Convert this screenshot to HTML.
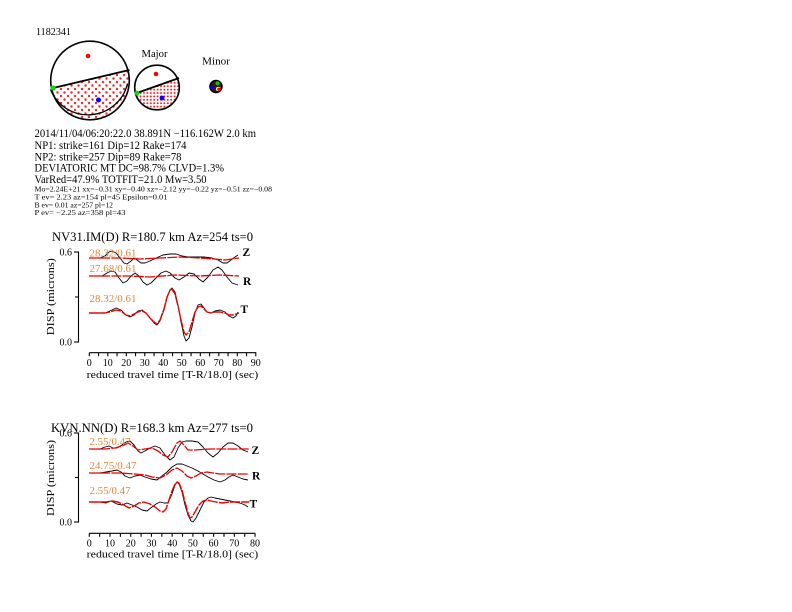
<!DOCTYPE html>
<html><head><meta charset="utf-8"><style>
html,body{margin:0;padding:0;background:#fff;}
svg{display:block;}
text{font-family:"Liberation Serif",serif;fill:#000;}
</style></head><body>
<svg width="792" height="612" viewBox="0 0 792 612" xmlns="http://www.w3.org/2000/svg">
<defs>
<pattern id="pb" x="0" y="0" width="7" height="7" patternUnits="userSpaceOnUse">
<g stroke="#e63030" stroke-width="0.8"><path d="M0.3 1.5h2.4M1.5 0.3v2.4M0.6 0.6l1.8 1.8M2.4 0.6l-1.8 1.8"/><path d="M3.8 5h2.4M5 3.8v2.4M4.1 4.1l1.8 1.8M5.9 4.1l-1.8 1.8"/></g>
</pattern>
<pattern id="pm" x="0" y="0" width="3.4" height="3.4" patternUnits="userSpaceOnUse">
<circle cx="1.2" cy="1.2" r="1" fill="#e62020"/>
</pattern>
<clipPath id="cbig"><circle cx="90" cy="80.5" r="38.5"/></clipPath>
<clipPath id="hbig"><polygon points="40,91.1 140,67.4 140,130 40,130"/></clipPath>
<clipPath id="cmed"><circle cx="157" cy="87.5" r="21.5"/></clipPath>
<clipPath id="hmed"><polygon points="130,95.6 185,75.4 185,115 130,115"/></clipPath>
</defs>
<rect width="792" height="612" fill="#fff"/>

<text x="36" y="35" font-size="10" textLength="35" lengthAdjust="spacingAndGlyphs">1182341</text>

<!-- big ball -->
<g clip-path="url(#cbig)"><g clip-path="url(#hbig)"><rect x="40" y="40" width="100" height="90" fill="url(#pb)"/></g></g>
<circle cx="90" cy="80.5" r="39.3" fill="none" stroke="#000" stroke-width="1.6"/>
<path d="M 52 88 A 40.5 40.5 0 0 0 129 82" fill="none" stroke="#000" stroke-width="1.3" transform="translate(-1.5,1.5)"/>
<line x1="51" y1="88.5" x2="129.5" y2="70" stroke="#000" stroke-width="1.8"/>
<circle cx="88" cy="56" r="2.3" fill="#f00"/>
<circle cx="98.5" cy="100" r="2.5" fill="#00f"/>
<circle cx="53" cy="88" r="2.6" fill="#0d0"/>

<!-- medium ball -->
<text x="154.5" y="57" font-size="10" text-anchor="middle" textLength="26" lengthAdjust="spacingAndGlyphs">Major</text>
<g clip-path="url(#cmed)"><g clip-path="url(#hmed)"><rect x="130" y="60" width="60" height="60" fill="url(#pm)"/></g></g>
<circle cx="157" cy="87.5" r="22.3" fill="none" stroke="#000" stroke-width="1.6"/>
<line x1="135.5" y1="93.5" x2="179" y2="78" stroke="#000" stroke-width="1.8"/>
<circle cx="156" cy="74" r="2.3" fill="#f00"/>
<circle cx="162" cy="98" r="2.4" fill="#00f"/>
<circle cx="137" cy="93" r="2.4" fill="#0d0"/>

<!-- minor ball -->
<text x="216" y="64.5" font-size="10" text-anchor="middle" textLength="28" lengthAdjust="spacingAndGlyphs">Minor</text>
<circle cx="216" cy="86.5" r="6" fill="#3a1a08" stroke="#000" stroke-width="1.6"/>
<path d="M 216 88 Q 218 86 220.5 87.5 L 219.5 91 L 216.5 91 Z" fill="#fff"/>
<circle cx="217.5" cy="83.3" r="2" fill="#0c0"/>
<circle cx="212.2" cy="87" r="2" fill="#00f"/>
<circle cx="219" cy="89.3" r="1.8" fill="#f00"/>

<!-- text block -->
<text x="34.5" y="137" font-size="11.5" textLength="221.5" lengthAdjust="spacingAndGlyphs">2014/11/04/06:20:22.0 38.891N −116.162W 2.0 km</text>
<text x="34.5" y="149" font-size="11.5" textLength="152" lengthAdjust="spacingAndGlyphs">NP1: strike=161 Dip=12 Rake=174</text>
<text x="34.5" y="160.5" font-size="11.5" textLength="147" lengthAdjust="spacingAndGlyphs">NP2: strike=257 Dip=89 Rake=78</text>
<text x="34.5" y="171.5" font-size="11.5" textLength="189.5" lengthAdjust="spacingAndGlyphs">DEVIATORIC MT DC=98.7% CLVD=1.3%</text>
<text x="34.5" y="183" font-size="11.5" textLength="172" lengthAdjust="spacingAndGlyphs">VarRed=47.9% TOTFIT=21.0 Mw=3.50</text>

<text x="34.5" y="191.5" font-size="7" textLength="237.5" lengthAdjust="spacingAndGlyphs">Mo=2.24E+21 xx=−0.31 xy=−0.40 xz=−2.12 yy=−0.22 yz=−0.51 zz=−0.08</text>
<text x="34.5" y="199.5" font-size="7" textLength="133" lengthAdjust="spacingAndGlyphs">T ev=  2.23 az=154 pl=45 Epsilon=0.01</text>
<text x="34.5" y="207.3" font-size="7" textLength="78.5" lengthAdjust="spacingAndGlyphs">B ev=  0.01 az=257 pl=12</text>
<text x="34.5" y="215" font-size="7" textLength="91" lengthAdjust="spacingAndGlyphs">P ev= −2.25 az=358 pl=43</text>

<!-- ===== Plot 1 ===== -->
<text x="52" y="241" font-size="12.5" textLength="201" lengthAdjust="spacingAndGlyphs">NV31.IM(D) R=180.7 km Az=254 ts=0</text>
<g stroke="#000" stroke-width="1.1" fill="none">
<line x1="78.5" y1="251.5" x2="78.5" y2="342.5"/>
<line x1="74" y1="252" x2="78.5" y2="252"/>
<line x1="75" y1="297" x2="78.5" y2="297"/>
<line x1="74" y1="342" x2="78.5" y2="342"/>
<line x1="89.3" y1="352.7" x2="256.3" y2="352.7"/>
<path d="M89.3 352.7v3.5M98.55 352.7v3.5M107.8 352.7v3.5M117.05 352.7v3.5M126.3 352.7v3.5M135.55 352.7v3.5M144.8 352.7v3.5M154.05 352.7v3.5M163.3 352.7v3.5M172.55 352.7v3.5M181.8 352.7v3.5M191.05 352.7v3.5M200.3 352.7v3.5M209.55 352.7v3.5M218.8 352.7v3.5M228.05 352.7v3.5M237.3 352.7v3.5M246.55 352.7v3.5M255.8 352.7v3.5"/>
</g>
<text x="72" y="255.5" font-size="10" text-anchor="end">0.6</text>
<text x="72" y="345.5" font-size="10" text-anchor="end">0.0</text>
<g font-size="10" text-anchor="middle">
<text x="89.3" y="366">0</text><text x="107.8" y="366">10</text><text x="126.3" y="366">20</text><text x="144.8" y="366">30</text><text x="163.3" y="366">40</text><text x="181.8" y="366">50</text><text x="200.3" y="366">60</text><text x="218.8" y="366">70</text><text x="237.3" y="366">80</text><text x="255.8" y="366">90</text>
</g>
<text x="86.7" y="378" font-size="11" textLength="171.5" lengthAdjust="spacingAndGlyphs">reduced travel time [T-R/18.0] (sec)</text>
<text transform="translate(54,296.7) rotate(-90)" font-size="11" text-anchor="middle" textLength="77" lengthAdjust="spacingAndGlyphs">DISP (microns)</text>

<g fill="none" stroke-linejoin="round">
<polyline stroke="#000" stroke-width="0.9" points="89,258 100,258 105,256 109,252 112,251 116,253 120,258 124,263 127,264 131,261 134,258 137,260 141,263 145,263 150,261 156,258 163,255 170,254 176,254 182,256 188,257 196,257 204,257 212,258 218,260 223,263 227,263 231,260 235,257 238,255"/>
<polyline stroke="#e00" stroke-width="1.3" stroke-dasharray="10 1.2" points="89,258 120,258 140,259 160,258 180,257 200,258 215,259 225,260 232,259 239,258"/>
<polyline stroke="#000" stroke-width="0.9" points="89,276 102,276 107,273 111,271 115,272 119,278 123,283 127,281 131,276 135,273 139,276 143,282 147,285 151,283 156,278 161,273 166,271 170,273 175,278 179,280 184,277 189,273 194,274 199,279 203,282 208,277 213,270 218,267 222,270 227,277 232,283 238,285"/>
<polyline stroke="#e00" stroke-width="1.3" stroke-dasharray="10 1.2" points="89,276 130,276 150,277 175,275 200,276 220,275 239,276"/>
<polyline stroke="#000" stroke-width="0.9" points="89,313 105,313 110,311 116,308 121,310 126,315 130,317 134,315 138,311 142,310 146,313 150,318 154,323 157,325 160,321 164,310 167,298 170,290 172,288 175,292 178,305 181,322 184,336 186,341 189,338 192,327 195,313 198,305 201,304 204,308 207,312 211,313 215,311 220,310 225,312 229,316 233,318 236,316 238,312"/>
<polyline stroke="#e00" stroke-width="1.4" stroke-dasharray="10 1.2" points="89,313 105,313 110,312 116,310 121,311 126,315 130,316 134,314 138,312 142,311 146,313 150,318 154,322 157,324 160,320 164,309 167,297 170,290 172,289 175,294 178,306 181,320 184,332 186,335 189,332 192,322 195,312 198,307 201,306 204,309 207,312 211,313 215,312 220,312 225,313 229,315 233,315 236,314 239,313"/>
</g>
<g font-size="10">
<text x="89.5" y="256.5" style="fill:#e0873a" textLength="47" lengthAdjust="spacingAndGlyphs">28.32/0.61</text>
<text x="89.5" y="272" style="fill:#e0873a" textLength="47" lengthAdjust="spacingAndGlyphs">27.68/0.61</text>
<text x="89.5" y="302" style="fill:#e0873a" textLength="47" lengthAdjust="spacingAndGlyphs">28.32/0.61</text>
</g>
<g font-size="11.5" font-weight="bold">
<text x="242.5" y="256">Z</text>
<text x="243" y="285">R</text>
<text x="240.5" y="313">T</text>
</g>

<!-- ===== Plot 2 ===== -->
<text x="72" y="436.5" font-size="10" text-anchor="end">0.6</text>
<text x="72" y="525.5" font-size="10" text-anchor="end">0.0</text>
<text x="51" y="432" font-size="12.5" textLength="202" lengthAdjust="spacingAndGlyphs">KVN.NN(D) R=168.3 km Az=277 ts=0</text>
<g stroke="#000" stroke-width="1.1" fill="none">
<line x1="78.5" y1="432.5" x2="78.5" y2="522.5"/>
<line x1="74" y1="433" x2="78.5" y2="433"/>
<line x1="75" y1="477.5" x2="78.5" y2="477.5"/>
<line x1="74" y1="522" x2="78.5" y2="522"/>
<line x1="89.3" y1="533.3" x2="255" y2="533.3"/>
<path d="M89.3 533.3v3.5M99.66 533.3v3.5M110.02 533.3v3.5M120.38 533.3v3.5M130.74 533.3v3.5M141.1 533.3v3.5M151.46 533.3v3.5M161.82 533.3v3.5M172.18 533.3v3.5M182.54 533.3v3.5M192.9 533.3v3.5M203.26 533.3v3.5M213.62 533.3v3.5M223.98 533.3v3.5M234.34 533.3v3.5M244.7 533.3v3.5M255.06 533.3v3.5"/>
</g>
<g font-size="10" text-anchor="middle">
<text x="89.3" y="546.5">0</text><text x="110" y="546.5">10</text><text x="130.7" y="546.5">20</text><text x="151.5" y="546.5">30</text><text x="172.2" y="546.5">40</text><text x="192.9" y="546.5">50</text><text x="213.6" y="546.5">60</text><text x="234.3" y="546.5">70</text><text x="255" y="546.5">80</text>
</g>
<text x="86.7" y="557.5" font-size="11" textLength="171.5" lengthAdjust="spacingAndGlyphs">reduced travel time [T-R/18.0] (sec)</text>
<text transform="translate(54,478) rotate(-90)" font-size="11" text-anchor="middle" textLength="76" lengthAdjust="spacingAndGlyphs">DISP (microns)</text>

<g fill="none" stroke-linejoin="round">
<polyline stroke="#000" stroke-width="0.9" points="89,449 100,449 105,447 109,446 113,448 117,448 122,445 126,442 130,441 134,445 138,451 141,453 145,451 150,448 155,446 160,448 165,455 170,460 174,457 178,448 182,442 186,441 192,441 198,442 203,447 208,453 213,457 218,453 223,447 228,443 233,443 238,446 243,450 248,452"/>
<polyline stroke="#e00" stroke-width="1.3" stroke-dasharray="10 1.2" points="89,449 105,449 115,448 122,446 128,443 133,446 138,450 145,449 152,448 158,451 163,455 168,457 172,452 177,443 180,441 184,445 188,450 195,450 210,449 230,449 249,449"/>
<polyline stroke="#000" stroke-width="0.9" points="89,473 100,473 106,472 112,471 117,470 121,472 125,476 130,478 135,476 140,475 145,477 151,479 157,480 162,476 167,472 172,467 177,464 182,464 187,466 192,468 198,471 203,474 208,477 214,480 220,482 225,480 229,477 233,475 238,477 243,479 248,480"/>
<polyline stroke="#e00" stroke-width="1.3" stroke-dasharray="10 1.2" points="89,473 120,473 135,474 145,475 152,477 160,478 166,475 172,470 177,468 182,471 187,476 191,478 196,476 201,473 207,472 213,473 220,474 249,474"/>
<polyline stroke="#000" stroke-width="0.9" points="89,502 100,502 106,503 111,501 117,504 122,505 127,503 132,505 137,507 142,510 147,511 152,507 156,504 160,502 164,503 168,503 172,494 175,485 177,482 179,484 182,492 185,505 188,515 191,521 193,522 196,518 200,510 204,502 208,498 211,497 215,498 220,499 225,500 230,501 235,502 240,503 245,505 248,507"/>
<polyline stroke="#e00" stroke-width="1.4" stroke-dasharray="10 1.2" points="89,502 100,502 106,502 112,501 118,502 124,505 129,508 134,506 139,503 144,502 150,504 155,507 160,511 163,512 166,509 169,500 172,491 175,484 177,482 179,483 182,490 185,502 188,513 190,518 192,517 195,512 199,505 203,501 207,500 211,501 216,502 222,503 230,502 240,502 249,502"/>
</g>
<g font-size="10">
<text x="89.5" y="445" style="fill:#e0873a" textLength="41" lengthAdjust="spacingAndGlyphs">2.55/0.47</text>
<text x="89.5" y="469" style="fill:#e0873a" textLength="47" lengthAdjust="spacingAndGlyphs">24.75/0.47</text>
<text x="89.5" y="494" style="fill:#e0873a" textLength="41" lengthAdjust="spacingAndGlyphs">2.55/0.47</text>
</g>
<g font-size="11.5" font-weight="bold">
<text x="251.5" y="454">Z</text>
<text x="252" y="479.5">R</text>
<text x="249.5" y="507.5">T</text>
</g>
</svg>
</body></html>
